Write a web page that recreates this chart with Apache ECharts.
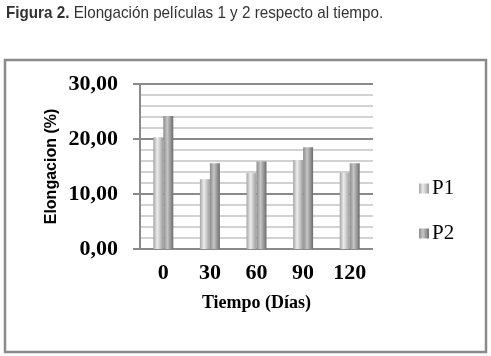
<!DOCTYPE html>
<html>
<head>
  <meta charset="UTF-8">
  <title>Figura 2</title>
  <script src="https://cdn.jsdelivr.net/npm/echarts@6/dist/echarts.min.js"></script>
  <style>
    html, body { margin: 0; padding: 0; background: #fff; }
    #main { width: 491px; height: 356px; }
  </style>
</head>
<body>
<div id="main"></div>
<script>
  // datos
  var dias = ['0', '30', '60', '90', '120'];
  var p1 = [20.3, 12.7, 13.8, 16.2, 13.9];
  var p2 = [24.2, 15.6, 15.9, 18.5, 15.6];

  function cyl(a, b, c) {
    return new echarts.graphic.LinearGradient(0, 0, 1, 0, [
      { offset: 0, color: a },
      { offset: 0.4, color: b },
      { offset: 1, color: c }
    ]);
  }

  var serif = 'Liberation Serif';

  var chart = echarts.init(document.getElementById('main'));
  var option = {
    animation: false,
    graphic: [
      {
        type: 'text',
        left: 6,
        top: 5,
        scaleX: 0.895,
        originX: 0,
        style: {
          text: '{b|Figura 2.} Elongación películas 1 y 2 respecto al tiempo.',
          font: '17px Liberation Sans',
          fill: '#333',
          rich: {
            b: { fontFamily: 'Liberation Sans', fontSize: 17, fontWeight: 'bold', fill: '#333' }
          }
        }
      },
      {
        type: 'rect',
        shape: { x: 5, y: 60, width: 481, height: 292 },
        style: { fill: 'none', stroke: '#8a8a8a', lineWidth: 2.5 }
      }
    ],
    legend: {
      orient: 'vertical',
      left: 414,
      top: 173,
      itemWidth: 10,
      itemHeight: 10,
      itemGap: 24,
      icon: 'rect',
      textStyle: { fontFamily: serif, fontSize: 21, color: '#000', padding: [0, 0, 0, -2] },
      data: ['P1', 'P2']
    },
    grid: { left: 140, right: 118, top: 84, bottom: 107 },
    xAxis: {
      type: 'category',
      data: dias,
      name: 'Tiempo (Días)',
      nameLocation: 'middle',
      nameGap: 45,
      nameTextStyle: { fontFamily: serif, fontWeight: 'bold', fontSize: 18, color: '#000' },
      axisLine: { show: false },
      axisTick: { show: false },
      axisLabel: { margin: 13, fontFamily: serif, fontWeight: 'bold', fontSize: 22, color: '#000' }
    },
    yAxis: {
      type: 'value',
      min: 0,
      max: 30,
      interval: 10,
      name: 'Elongacion (%)',
      nameLocation: 'middle',
      nameGap: 80,
      nameTextStyle: { fontFamily: 'Liberation Sans', fontWeight: 'bold', fontSize: 16, color: '#000' },
      axisLine: { show: true, lineStyle: { color: '#8a8a8a', width: 2 } },
      axisTick: { show: true, length: 7, lineStyle: { color: '#8a8a8a', width: 2 } },
      axisLabel: {
        margin: 22,
        fontFamily: serif,
        fontWeight: 'bold',
        fontSize: 22,
        color: '#000',
        formatter: function (v) { return v.toFixed(2).replace('.', ','); }
      },
      splitLine: { show: true, lineStyle: { color: '#8a8a8a', width: 2 } },
      minorTick: { show: false, splitNumber: 5 },
      minorSplitLine: { show: true, lineStyle: { color: '#c4c4c4', width: 1.5 } }
    },
    series: [
      {
        name: 'P1',
        type: 'bar',
        barWidth: 10,
        barGap: '0%',
        itemStyle: { color: cyl('#a4a4a4', '#ececec', '#9c9c9c') },
        data: p1
      },
      {
        name: 'P2',
        type: 'bar',
        barWidth: 10,
        barGap: '0%',
        itemStyle: { color: cyl('#8c8c8c', '#c6c6c6', '#6c6c6c') },
        data: p2
      }
    ]
  };
  chart.setOption(option);
</script>
</body>
</html>
